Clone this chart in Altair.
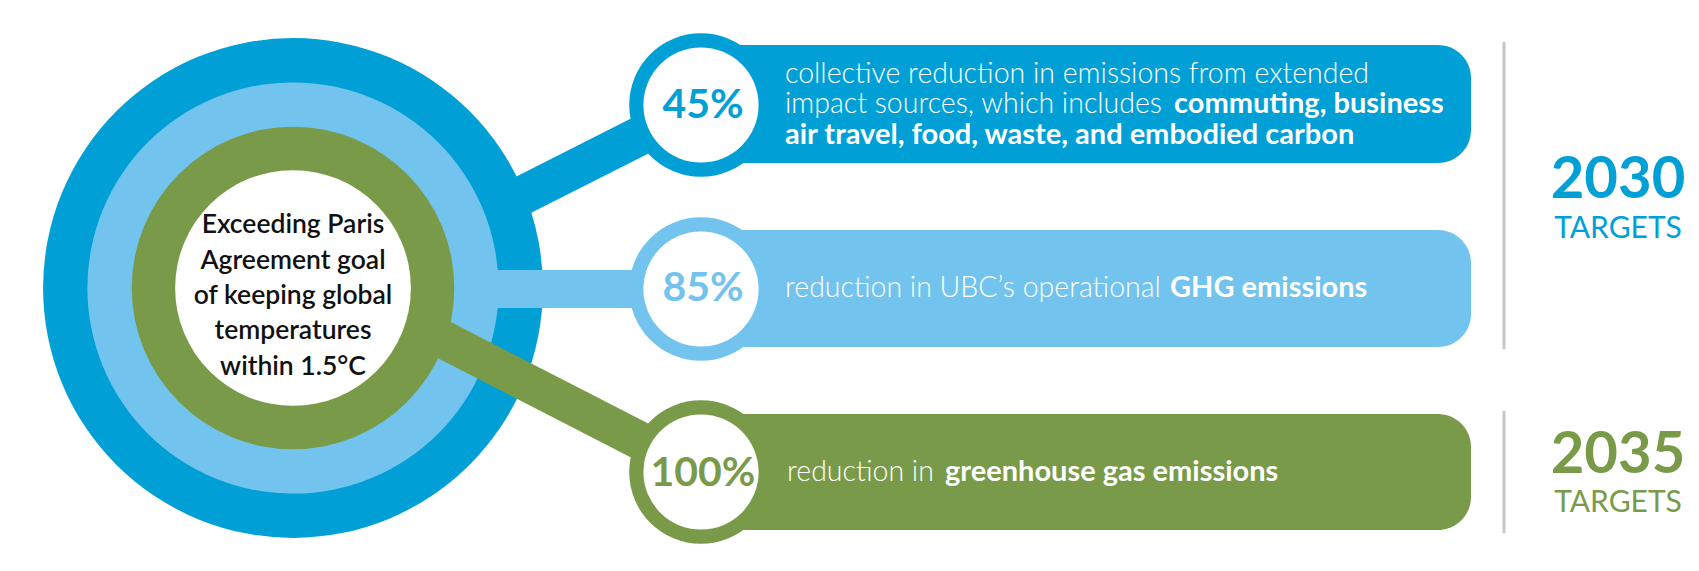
import math
import altair as alt
import pandas as pd

# ---------------- content ----------------
pct_labels = ["45%", "85%", "100%"]
row_colors = ["#00A0D7", "#72C4EE", "#799B49"]

center_lines = ["Exceeding Paris", "Agreement goal", "of keeping global",
                "temperatures", "within 1.5°C"]

seg_text = [
    "collective reduction in emissions from extended",
    "impact sources, which includes",
    "commuting, business",
    "air travel, food, waste, and embodied carbon",
    "reduction in UBC’s operational",
    "GHG emissions",
    "reduction in",
    "greenhouse gas emissions",
]
seg_bold = [False, False, True, True, False, True, False, True]

years = ["2030", "2035"]
year_sub = ["TARGETS", "TARGETS"]
year_colors = ["#00A0D7", "#799B49"]

# ---------------- layout (reference pixel space) ----------------
W, H = 1683, 555
X0, Y0 = 8, 8
xs = alt.Scale(domain=[X0, X0 + W])
ys = alt.Scale(domain=[Y0, Y0 + H], reverse=True)

CX, CY = 293, 288
ring_r = [282, 232, 182, 133]

row_y = [105, 289, 472]
bubble_x = 701
bubble_r_out, bubble_r_in = 81, 65
bar_x2 = 1471
bar_top = [45, 230, 414]
bar_bot = [163, 347, 530]

seg_x = [785, 785, 1174, 785, 785, 1170, 787, 945]
seg_y = [83, 113, 113, 144, 297, 297, 481, 481]

pct_y = [118, 301, 486]
center_y = [233, 269, 304, 339, 375]

divider_x = 1504
divider_y1 = [43, 412]
divider_y2 = [348, 532]
year_x = 1618
year_y = [198, 473]
sub_y = [238, 512]


def X(f):
    return alt.X(f, type="quantitative", scale=xs, axis=None)


def Y(f):
    return alt.Y(f, type="quantitative", scale=ys, axis=None)


def disc(x, y, r, color):
    d = pd.DataFrame({"x": [x], "y": [y], "s": [math.pi * r * r]})
    return alt.Chart(d).mark_circle(opacity=1, color=color, strokeWidth=0).encode(
        x=X("x"), y=Y("y"), size=alt.Size("s:Q", scale=None, legend=None))


def band(x1, y1, x2, y2, color, w=39):
    d = pd.DataFrame({"x": [x1], "y": [y1], "x2": [x2], "y2": [y2]})
    return alt.Chart(d).mark_rule(color=color, strokeWidth=w, strokeCap="butt").encode(
        x=X("x"), y=Y("y"), x2="x2", y2="y2")


layers = []
# rings and connectors
layers.append(disc(CX, CY, ring_r[0], row_colors[0]))
layers.append(band(440, 237, bubble_x, row_y[0], row_colors[0]))
layers.append(disc(CX, CY, ring_r[1], row_colors[1]))
layers.append(band(CX, row_y[1], bubble_x, row_y[1], row_colors[1], 38))
layers.append(disc(CX, CY, ring_r[2], row_colors[2]))
layers.append(band(380, 307, bubble_x, row_y[2], row_colors[2], 38))
layers.append(disc(CX, CY, ring_r[3], "#ffffff"))

# bars
bars = pd.DataFrame({"x": [bubble_x] * 3, "x2": [bar_x2] * 3,
                     "y": bar_top, "y2": bar_bot, "c": row_colors})
layers.append(alt.Chart(bars).mark_rect(cornerRadius=33).encode(
    x=X("x"), x2="x2", y=Y("y"), y2="y2",
    color=alt.Color("c:N", scale=None)))

# bubbles
for i in range(3):
    layers.append(disc(bubble_x, row_y[i], bubble_r_out, row_colors[i]))
    layers.append(disc(bubble_x, row_y[i], bubble_r_in, "#ffffff"))

# percentage labels
pct = pd.DataFrame({"x": [bubble_x + 2] * 3, "y": pct_y, "t": pct_labels, "c": row_colors})
layers.append(alt.Chart(pct).mark_text(font="Lato", fontWeight="bold", fontSize=41,
                                       align="center", baseline="alphabetic").encode(
    x=X("x"), y=Y("y"), text="t:N", color=alt.Color("c:N", scale=None)))

# bar descriptions
segs = pd.DataFrame({"x": seg_x, "y": seg_y, "t": seg_text, "b": seg_bold})
for flag, wt, fs in [(False, 300, 28.5), (True, "bold", 29)]:
    sub = segs[segs["b"] == flag]
    layers.append(alt.Chart(sub).mark_text(font="Lato", fontWeight=wt, fontSize=fs,
                                           color="#ffffff", align="left",
                                           baseline="alphabetic").encode(
        x=X("x"), y=Y("y"), text="t:N"))

# center text
ct = pd.DataFrame({"x": [CX] * len(center_lines), "y": center_y, "t": center_lines})
layers.append(alt.Chart(ct).mark_text(font="Lato", fontWeight=600, fontSize=26.5,
                                      color="#111111", align="center",
                                      baseline="alphabetic").encode(
    x=X("x"), y=Y("y"), text="t:N"))

# dividers
div = pd.DataFrame({"x": [divider_x] * 2, "y": divider_y1, "y2": divider_y2})
layers.append(alt.Chart(div).mark_rule(color="#C6C6C6", strokeWidth=3, strokeCap="round").encode(
    x=X("x"), y=Y("y"), y2="y2"))

# year labels
yr = pd.DataFrame({"x": [year_x] * 2, "y": year_y, "t": years, "c": year_colors})
layers.append(alt.Chart(yr).mark_text(font="Lato", fontWeight="bold", fontSize=58,
                                      align="center", baseline="alphabetic").encode(
    x=X("x"), y=Y("y"), text="t:N", color=alt.Color("c:N", scale=None)))
sb = pd.DataFrame({"x": [year_x] * 2, "y": sub_y, "t": year_sub, "c": year_colors})
layers.append(alt.Chart(sb).mark_text(font="Lato", fontWeight=400, fontSize=30,
                                      align="center", baseline="alphabetic").encode(
    x=X("x"), y=Y("y"), text="t:N", color=alt.Color("c:N", scale=None)))

chart = alt.layer(*layers).properties(
    width=W, height=H, padding=0,
    autosize=alt.AutoSizeParams(type="none"),
).configure_view(strokeWidth=0)

chart.save("out.html", embed_options={"renderer": "svg", "actions": False})
